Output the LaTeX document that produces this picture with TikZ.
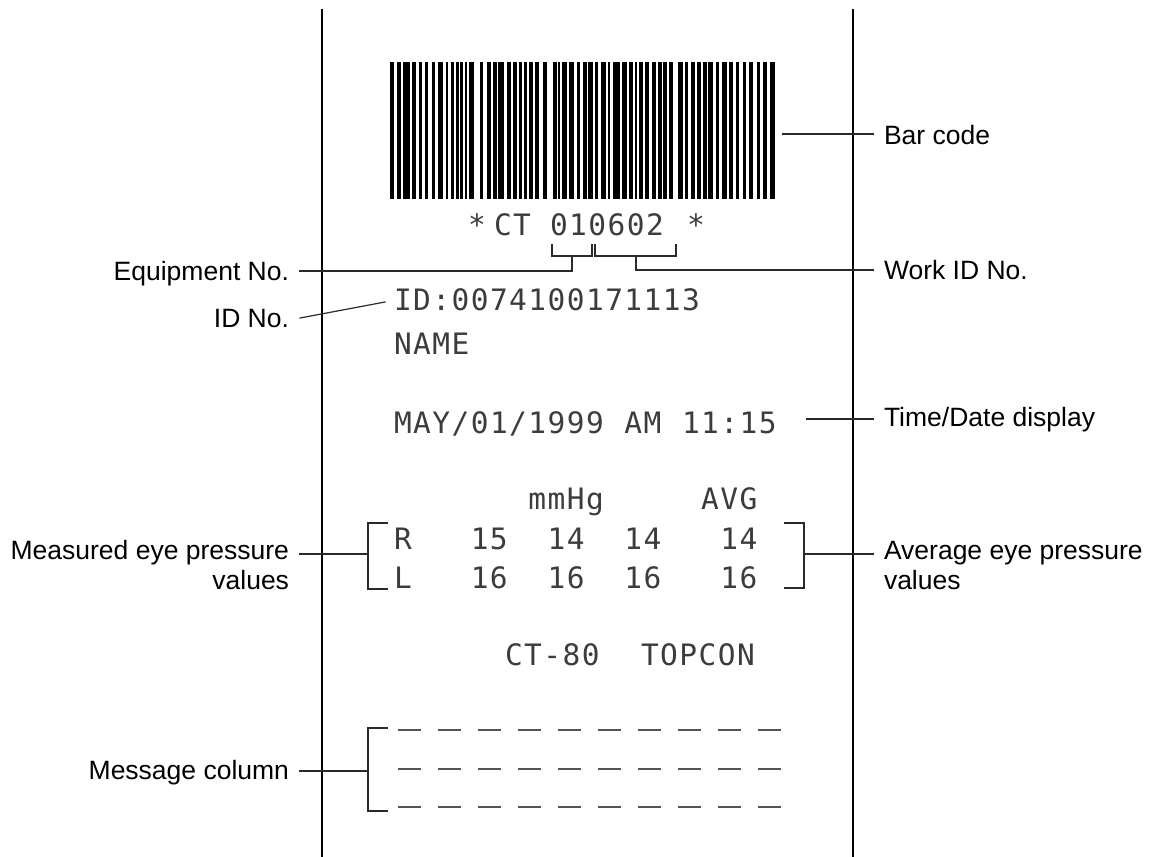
\documentclass[tikz,border=0pt]{standalone}
\usepackage{fontspec}
\setmainfont{Liberation Sans}
\newfontfamily\printfont[LetterSpace=4.9]{DejaVu Sans Mono}
\usetikzlibrary{positioning}

\begin{document}
\begin{tikzpicture}[x=1pt,y=-1pt,line cap=rect,
		paper/.style={line width=2.5pt, custcol_0_0_0},
		lead/.style={line width=1.2pt, custcol_2a_2a_2a},
		lbl/.style={inner xsep=11pt, inner ysep=0pt, outer sep=0, custcol_0_0_0, font=\fontsize{26.5pt}{30pt}\selectfont},
		prt/.style={inner sep=0, outer sep=0, anchor=base west, custcol_3c_3c_3c, font=\printfont\fontsize{29.5pt}{29.5pt}\selectfont},
		msgdash/.style={line width=2.5pt, line cap=butt, custcol_55_55_55}]
	\definecolor{custcol_0_0_0}{RGB}{0, 0, 0}
	\definecolor{custcol_2a_2a_2a}{RGB}{42, 42, 42}
	\definecolor{custcol_3c_3c_3c}{RGB}{60, 60, 60}
	\definecolor{custcol_55_55_55}{RGB}{85, 85, 85}
	\useasboundingbox (0,0) rectangle (1149,857);
	% paper edges
	\draw [paper] (322,10) -- (322,857) ;
	\draw [paper] (853,10) -- (853,857) ;
	% bar code
	\foreach \a/\b in {390/394, 396.7/400.7, 403.3/410, 412.3/416, 418.7/422, 425/428.3, 431.7/435, 438.3/442.7,
			445.7/448.3, 450.7/454, 456/458.7, 460/462.7, 464.7/467.3, 469.3/474, 480/482.7, 486.7/490.7,
			493.3/496.7, 498.3/504, 506.7/510.7, 512.7/516.7, 519.3/522, 524/526.7, 529.3/532.7, 535/539.3,
			542.7/546.7, 552.7/556.7, 558.3/560, 561.7/566.7, 569.3/574, 576.7/580, 582.7/586.7, 588.3/593.3,
			595/598.3, 600.7/606, 607.7/610, 612.7/620, 621.7/627.3, 629.3/632.7, 635/636.7, 639.3/643.3,
			645/649.3, 651.7/656, 658.3/661.7, 663.3/667.3, 669.3/673.3, 677.7/682.7, 685/688.3, 690.7/695,
			697.3/700.7, 703.3/706.7, 708.3/713.3, 716/719.3, 722.3/726.7, 729.3/733.3, 736/739.3, 742.7/746,
			749.3/753.3, 756.7/760, 762.7/766.7, 770/775}
		\fill [custcol_0_0_0] (\a,62) rectangle (\b,199) ;
	% printed lines
	\node[prt] (star1) at (468,235) {*};
	\node[prt] (ct) at (494,235) {CT};
	\node[prt] (workno) at (550,235) {010602};
	\node[prt] (star2) at (687,235) {*};
	\node[prt] (id) at (394,310) {ID:0074100171113};
	\node[prt] (name) at (394,354) {NAME};
	\node[prt] (date) at (394,433) {MAY/01/1999};
	\node[prt] (ampm) at (624.4,433) {AM};
	\node[prt] (time) at (682,433) {11:15};
	\node[prt] (unit) at (528.4,509) {mmHg};
	\node[prt] (avg) at (701.2,509) {AVG};
	\node[prt] (rr) at (394,549) {R};
	\node[prt] (r1) at (470.8,549) {15};
	\node[prt] (r2) at (547.6,549) {14};
	\node[prt] (r3) at (624.4,549) {14};
	\node[prt] (ravg) at (720.4,549) {14};
	\node[prt] (ll) at (394,588) {L};
	\node[prt] (l1) at (470.8,588) {16};
	\node[prt] (l2) at (547.6,588) {16};
	\node[prt] (l3) at (624.4,588) {16};
	\node[prt] (lavg) at (720.4,588) {16};
	\node[prt] (model) at (505,665) {CT-80};
	\node[prt] (maker) at (641,665) {TOPCON};
	% message column
	\foreach \r in {730,769,807}
		\foreach \k in {0,...,9}
			\draw [msgdash] (398+40*\k,\r) -- (421+40*\k,\r) ;
	% labels
	\node[lbl, anchor=base west] (barlbl) at (873,144) {Bar code};
	\node[lbl, anchor=base west] (worklbl) at (873,279) {Work ID No.};
	\node[lbl, anchor=base west] (timelbl) at (873,426) {Time/Date display};
	\node[lbl, anchor=base west] (avglbl) at (873,559) {Average eye pressure};
	\node[lbl, anchor=base west] (avglbl2) at (873,589) {values};
	\node[lbl, anchor=base east] (equiplbl) at (300,280) {Equipment No.};
	\node[lbl, anchor=base east] (idlbl) at (300,327) {ID No.};
	\node[lbl, anchor=base east] (measlbl) at (300,559) {Measured eye pressure};
	\node[lbl, anchor=base east] (measlbl2) at (300,589) {values};
	\node[lbl, anchor=base east] (msglbl) at (300,779) {Message column};
	% brackets and leaders
	\coordinate (barend) at (783,134);
	\draw [lead] (barend) -- (barend -| barlbl.west) ;
	\draw [lead] (552,245) -- (552,256) -- (592,256) -- (592,245) ;
	\coordinate (eqstem) at (572,256);
	\coordinate (eqknee) at (572,271);
	\draw [lead] (eqstem) -- (eqknee) -- (eqknee -| equiplbl.east) ;
	\draw [lead] (595,245) -- (595,256) -- (676,256) -- (676,245) ;
	\coordinate (wkstem) at (636,256);
	\coordinate (wkknee) at (636,270);
	\draw [lead] (wkstem) -- (wkknee) -- (wkknee -| worklbl.west) ;
	\coordinate (idend) at (385,302);
	\draw [lead] (idlbl.east) -- (idend) ;
	\coordinate (timeend) at (807,419);
	\draw [lead] (timeend) -- (timeend -| timelbl.west) ;
	\draw [lead] (387,523) -- (368,523) -- (368,589) -- (387,589) ;
	\coordinate (measbr) at (368,554);
	\draw [lead] (measbr) -- (measbr -| measlbl.east) ;
	\draw [lead] (785,523) -- (804,523) -- (804,588) -- (785,588) ;
	\coordinate (avgbr) at (804,554);
	\draw [lead] (avgbr) -- (avgbr -| avglbl.west) ;
	\draw [lead] (387,728) -- (368,728) -- (368,811) -- (387,811) ;
	\coordinate (msgbr) at (368,771);
	\draw [lead] (msgbr) -- (msgbr -| msglbl.east) ;
\end{tikzpicture}
\end{document}
